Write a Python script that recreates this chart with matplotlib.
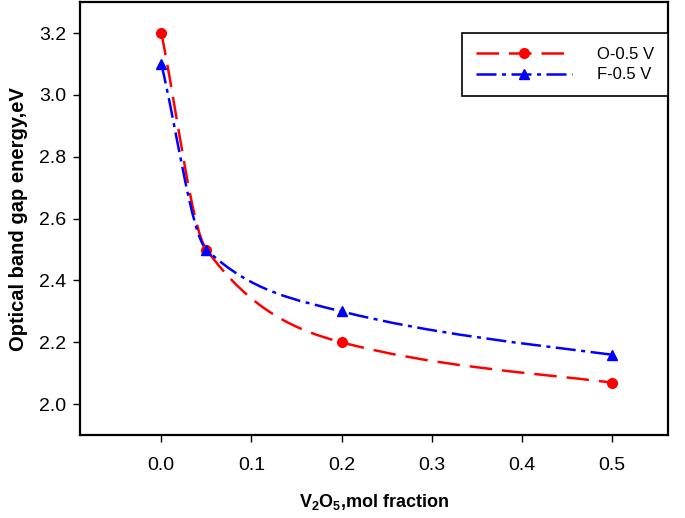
import matplotlib.pyplot as plt
import numpy as np
from matplotlib.path import Path
from matplotlib.patches import PathPatch
from matplotlib.lines import Line2D

x = [0.0, 0.05, 0.2, 0.5]
o_vals = [3.2, 2.5, 2.2, 2.07]
f_vals = [3.1, 2.5, 2.3, 2.16]
labels = ["O-0.5 V", "F-0.5 V"]

plt.rcParams['font.family'] = ['Liberation Sans', 'DejaVu Sans']
plt.rcParams['mathtext.fontset'] = 'custom'
plt.rcParams['mathtext.rm'] = 'Liberation Sans'
plt.rcParams['mathtext.bf'] = 'Liberation Sans:bold'


def pchip_slopes(xs, ys):
    xs = np.asarray(xs, float)
    ys = np.asarray(ys, float)
    h = np.diff(xs)
    d = np.diff(ys) / h
    m = np.zeros(len(xs))
    for i in range(1, len(xs) - 1):
        if d[i - 1] * d[i] > 0:
            w1 = 2 * h[i] + h[i - 1]
            w2 = h[i] + 2 * h[i - 1]
            m[i] = (w1 + w2) / (w1 / d[i - 1] + w2 / d[i])
    m[0] = d[0]
    m[-1] = d[-1] * 0.8
    return m


def smooth_path(xs, ys):
    m = pchip_slopes(xs, ys)
    verts = [(xs[0], ys[0])]
    codes = [Path.MOVETO]
    for i in range(len(xs) - 1):
        h = xs[i + 1] - xs[i]
        verts += [(xs[i] + h / 3, ys[i] + m[i] * h / 3),
                  (xs[i + 1] - h / 3, ys[i + 1] - m[i + 1] * h / 3),
                  (xs[i + 1], ys[i + 1])]
        codes += [Path.CURVE4] * 3
    return Path(verts, codes)


fig = plt.figure(figsize=(6.85, 5.18), dpi=100)
ax = fig.add_axes([0.117, 0.160, 0.858, 0.836])

red_ls = (0, (9, 4))
blue_ls = (0, (8, 2.2, 1.6, 2.2))

ax.add_patch(PathPatch(smooth_path(x, o_vals), fill=False, edgecolor='red',
                       lw=1.8, linestyle=red_ls))
ax.add_patch(PathPatch(smooth_path(x, f_vals), fill=False, edgecolor='blue',
                       lw=1.8, linestyle=blue_ls))
ax.plot(x, o_vals, 'o', color='red', ms=7, zorder=3)
ax.plot(x, f_vals, '^', color='blue', ms=7, zorder=3)

ax.set_xlim(-0.09, 0.562)
ax.set_ylim(1.9, 3.3)
ax.set_xticks([0.0, 0.1, 0.2, 0.3, 0.4, 0.5])
ax.set_yticks([2.0, 2.2, 2.4, 2.6, 2.8, 3.0, 3.2])
ax.xaxis.set_major_formatter(plt.FormatStrFormatter('%.1f'))
ax.yaxis.set_major_formatter(plt.FormatStrFormatter('%.1f'))
ax.tick_params(direction='out', length=5, width=1, labelsize=14, pad=5)
ax.tick_params(axis='x', pad=11)
for s in ax.spines.values():
    s.set_linewidth(1.6)

ax.set_xlabel(r'$\mathbf{V_2O_5}$,mol fraction', fontsize=13, fontweight='bold', labelpad=13)
ax.set_ylabel('Optical band gap energy,eV', fontsize=14.5, fontweight='bold', labelpad=8)

handles = [Line2D([], [], color='red', lw=1.8, linestyle=red_ls, marker='o', ms=7),
           Line2D([], [], color='blue', lw=1.8, linestyle=blue_ls, marker='^', ms=7)]
leg = ax.legend(handles, labels, loc='upper right', bbox_to_anchor=(1.0, 0.928),
                numpoints=1, handlelength=5.8, handletextpad=1.5, fontsize=12,
                fancybox=False, edgecolor='black', framealpha=1,
                borderpad=0.8, labelspacing=0.35, borderaxespad=0)
leg.get_frame().set_linewidth(1.2)

fig.savefig('out.png', dpi=100)
